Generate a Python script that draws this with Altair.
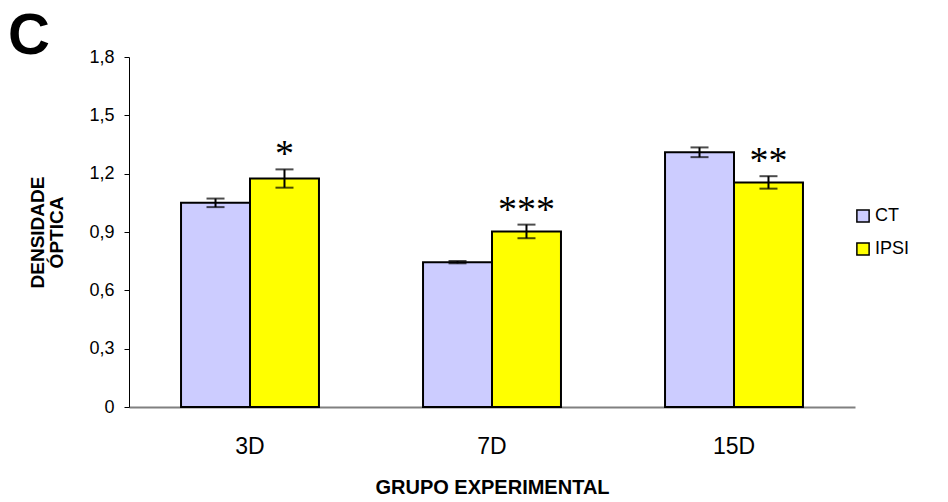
import altair as alt
import pandas as pd

groups = ["3D", "7D", "15D"]
series = ["CT", "IPSI"]
ct_mean = [1.05, 0.745, 1.31]
ct_err = [0.022, 0.006, 0.025]
ipsi_mean = [1.175, 0.903, 1.155]
ipsi_err = [0.047, 0.035, 0.032]
ipsi_stars = ["*", "***", "**"]
colors = ["#CCCCFF", "#FFFF00"]
y_ticks = [0, 0.3, 0.6, 0.9, 1.2, 1.5, 1.8]

rows = []
for i, g in enumerate(groups):
    rows.append({"group": g, "series": "CT", "mean": ct_mean[i],
                 "lo": ct_mean[i] - ct_err[i], "hi": ct_mean[i] + ct_err[i], "star": ""})
    rows.append({"group": g, "series": "IPSI", "mean": ipsi_mean[i],
                 "lo": ipsi_mean[i] - ipsi_err[i], "hi": ipsi_mean[i] + ipsi_err[i], "star": ipsi_stars[i]})
df = pd.DataFrame(rows)

FONT = "Liberation Sans"

x_scale = alt.Scale(domain=groups, paddingInner=0.43, paddingOuter=0.215)
x_plain = alt.X("group:N", sort=groups, scale=x_scale)
x_enc = alt.X("group:N", sort=groups, scale=x_scale,
              axis=alt.Axis(labelAngle=0, ticks=False, domainColor="#808080", domainWidth=2,
                            labelFontSize=23, labelFont=FONT, labelColor="black", labelPadding=28,
                            title="GRUPO EXPERIMENTAL", titleFont=FONT, titleFontSize=20,
                            titleFontWeight="bold", titleColor="black", titleY=80,
                            titleBaseline="middle"))
xoff = alt.XOffset("series:N", sort=series, scale=alt.Scale(domain=series))
y_scale = alt.Scale(domain=[0, 1.8], nice=False)

base = alt.Chart(df)

bars = base.mark_bar(stroke="black", strokeWidth=2, opacity=1).encode(
    x=x_enc,
    xOffset=xoff,
    y=alt.Y("mean:Q", scale=y_scale,
            axis=alt.Axis(values=y_ticks, grid=False, tickSize=5, tickColor="black",
                          domainColor="black", labelFontSize=18, labelFont=FONT,
                          labelColor="black", labelPadding=10,
                          labelExpr="datum.value == 0 ? '0' : replace(format(datum.value, '.1f'), '.', ',')",
                          title=["DENSIDADE", "ÓPTICA"], titleFont=FONT, titleFontSize=19,
                          titleFontWeight="bold", titleColor="black", titleLineHeight=19,
                          titleX=-101, titleY=175, titleBaseline="top", titleAlign="center")),
    color=alt.Color("series:N", scale=alt.Scale(domain=series, range=colors),
                    legend=alt.Legend(title=None, orient="none", legendX=725, legendY=150,
                                      symbolType="square", symbolSize=150,
                                      symbolStrokeColor="black", symbolStrokeWidth=1.5,
                                      symbolOpacity=1, labelFontSize=18, labelFont=FONT,
                                      labelColor="black", rowPadding=13, labelOffset=3)),
)

rule = base.mark_rule(color="black", strokeWidth=2).encode(
    x=x_plain, xOffset=xoff, y=alt.Y("lo:Q", scale=y_scale), y2="hi:Q")
cap_hi = base.mark_tick(color="black", thickness=2, size=18, orient="horizontal").encode(
    x=x_plain, xOffset=xoff, y=alt.Y("hi:Q", scale=y_scale))
cap_lo = base.mark_tick(color="black", thickness=2, size=18, orient="horizontal").encode(
    x=x_plain, xOffset=xoff, y=alt.Y("lo:Q", scale=y_scale))
stars = base.transform_filter("datum.star != ''").mark_text(
    font="Liberation Serif", fontSize=38, baseline="alphabetic", dy=-3, color="black").encode(
    x=x_plain, xOffset=xoff, y=alt.Y("hi:Q", scale=y_scale), text="star:N")

panel = alt.Chart(pd.DataFrame({"t": ["C"]})).mark_text(
    font=FONT, fontSize=58, fontWeight="bold", align="center", baseline="alphabetic",
    color="black").encode(text="t:N", x=alt.value(-100), y=alt.value(-3))

chart = alt.layer(bars, rule, cap_hi, cap_lo, stars, panel).properties(
    width=726, height=350,
    autosize=alt.AutoSizeParams(type="none"),
    padding={"left": 121, "top": 49, "right": 70, "bottom": 90},
).configure_view(stroke=None)

chart.save("out.html", embed_options={"renderer": "svg", "actions": False})
